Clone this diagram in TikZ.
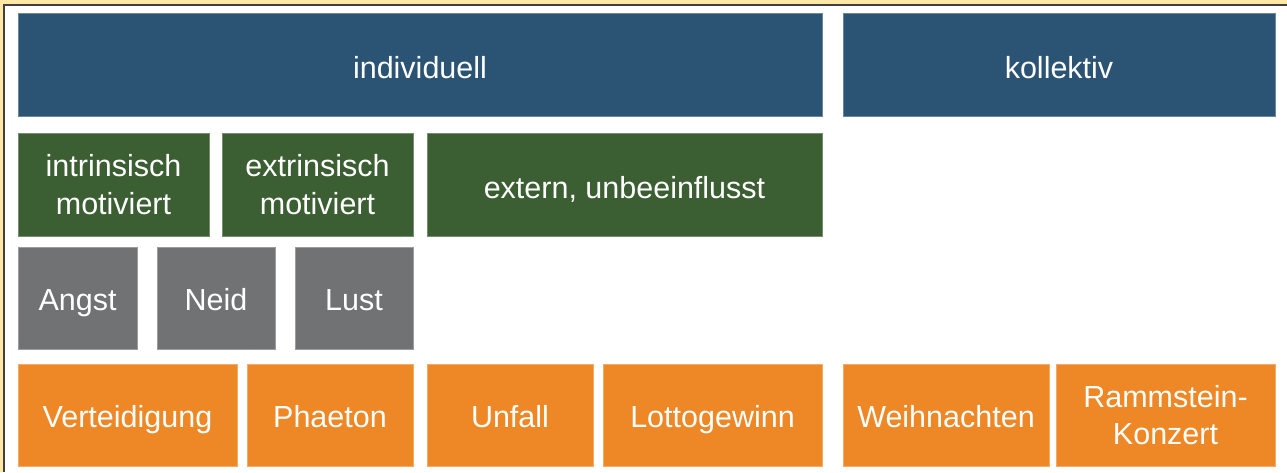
\documentclass[tikz,border=0pt]{standalone}
\usepackage{fontspec}
\setmainfont{Liberation Sans}
\usetikzlibrary{positioning}
\definecolor{bgyellow}{HTML}{FFE8A3}
\definecolor{cblue}{HTML}{2B5373}
\definecolor{cgreen}{HTML}{3C5E33}
\definecolor{cgrey}{HTML}{717274}
\definecolor{corange}{HTML}{EE8726}
\tikzstyle{box} = [rectangle, inner sep=0pt, text=white, align=center,
    line width=0.8pt, text height=24pt, text depth=0pt,
    font=\fontsize{30.5}{37.5}\selectfont]
\tikzstyle{twoline} = [text height=, text depth=]
\tikzstyle{lvl} = [box, fill=cblue, draw=cblue!70!white, minimum height=103pt,
    text height=27pt]
\tikzstyle{mot} = [box, fill=cgreen, draw=cgreen!70!white, minimum height=103pt,
    text height=27pt]
\tikzstyle{emo} = [box, fill=cgrey, draw=cgrey!70!white, minimum height=102pt]
\tikzstyle{ex} = [box, fill=corange, draw=corange!70!white, minimum height=102pt]

\begin{document}
\begin{tikzpicture}[x=1pt,y=-1pt]
  \useasboundingbox (0,0) rectangle (1287,472);
  \fill[bgyellow] (0,0) rectangle (1287,472);
  \fill[white] (4,5) rectangle (1287,472);
  \draw[line width=1.5pt, black!75] (4,472) -- (4,5) -- (1287,5);

  % top row
  \node[lvl, minimum width=804pt] (indiv) at (420,64.5) {individuell};
  \node[lvl, minimum width=432pt] (koll) at (1059,64.5) {kollektiv};

  % motivation
  \node[mot, twoline, minimum width=191pt] (intr) at (113.5,184.5) {intrinsisch\\motiviert};
  \node[mot, twoline, minimum width=191pt] (extr) at (317.5,184.5) {extrinsisch\\motiviert};
  \node[mot, minimum width=395pt] (extern) at (624.5,184.5) {extern, unbeeinflusst};

  % emotions
  \node[emo, minimum width=119pt] (angst) at (77.5,298) {Angst};
  \node[emo, minimum width=118pt] (neid) at (216,298) {Neid};
  \node[emo, minimum width=118pt] (lust) at (354,298) {Lust};

  % examples
  \node[ex, minimum width=219pt] (vert) at (127.5,415) {Verteidigung};
  \node[ex, minimum width=166pt] (phae) at (330,415) {Phaeton};
  \node[ex, minimum width=166pt] (unfall) at (510,415) {Unfall};
  \node[ex, minimum width=219pt] (lotto) at (712.5,415) {Lottogewinn};
  \node[ex, minimum width=206pt] (weih) at (946,415) {Weihnachten};
  \node[ex, twoline, minimum width=219pt] (ramm) at (1165.5,415) {Rammstein-\\Konzert};
\end{tikzpicture}
\end{document}
